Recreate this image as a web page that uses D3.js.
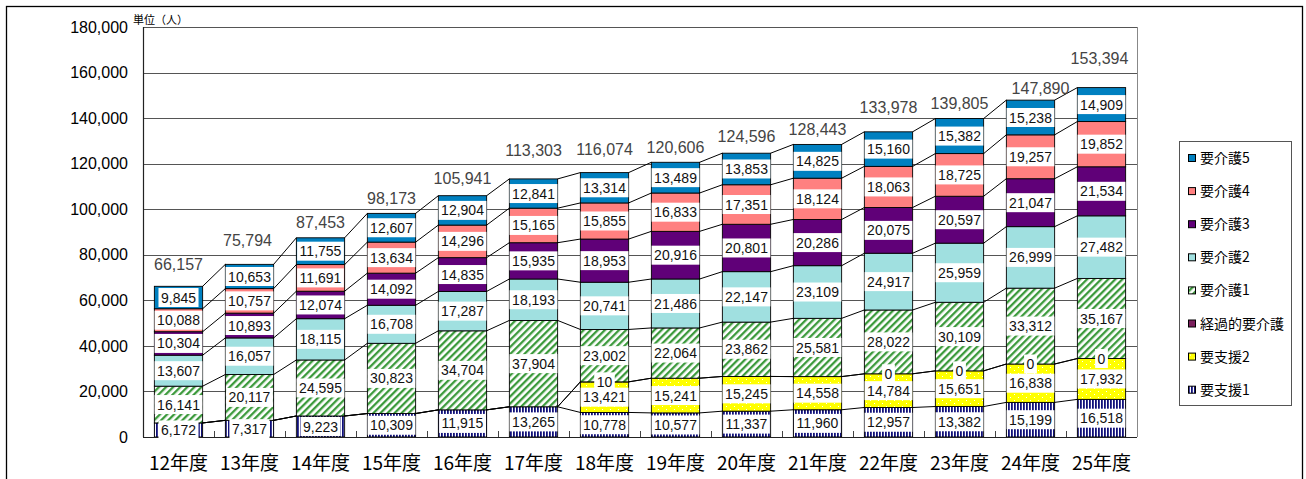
<!DOCTYPE html>
<html>
<head>
<meta charset="utf-8">
<script src="https://cdn.jsdelivr.net/npm/d3@7"></script>
<style>
  body { margin: 0; background: #fff; }
  svg text { font-family: "Liberation Sans", Arial, sans-serif; }
</style>
</head>
<body>
<div id="chart-holder"></div>
<script>
// categories (fiscal years)
var years = ["12年度", "13年度", "14年度", "15年度", "16年度", "17年度", "18年度",
             "19年度", "20年度", "21年度", "22年度", "23年度", "24年度", "25年度"];

// series, bottom of the stack first
var seriesNames = ["要支援1", "要支援2", "経過的要介護", "要介護1", "要介護2", "要介護3", "要介護4", "要介護5"];

var yoshien1 = [6172, 7317, 9223, 10309, 11915, 13265, 10778, 10577, 11337, 11960, 12957, 13382, 15199, 16518];
var yoshien2 = [null, null, null, null, null, null, 13421, 15241, 15245, 14558, 14784, 15651, 16838, 17932];
var keika    = [null, null, null, null, null, null, 10, null, null, null, 0, 0, 0, 0];
var kaigo1   = [16141, 20117, 24595, 30823, 34704, 37904, 23002, 22064, 23862, 25581, 28022, 30109, 33312, 35167];
var kaigo2   = [13607, 16057, 18115, 16708, 17287, 18193, 20741, 21486, 22147, 23109, 24917, 25959, 26999, 27482];
var kaigo3   = [10304, 10893, 12074, 14092, 14835, 15935, 18953, 20916, 20801, 20286, 20075, 20597, 21047, 21534];
var kaigo4   = [10088, 10757, 11691, 13634, 14296, 15165, 15855, 16833, 17351, 18124, 18063, 18725, 19257, 19852];
var kaigo5   = [9845, 10653, 11755, 12607, 12904, 12841, 13314, 13489, 13853, 14825, 15160, 15382, 15238, 14909];

var totals = [66157, 75794, 87453, 98173, 105941, 113303, 116074, 120606, 124596, 128443, 133978, 139805, 147890, 153394];

var yTicks = [0, 20000, 40000, 60000, 80000, 100000, 120000, 140000, 160000, 180000];

var seriesValues = [yoshien1, yoshien2, keika, kaigo1, kaigo2, kaigo3, kaigo4, kaigo5];

// how far each total label sits above its bar (hand placed in the original)
var totalLift = [22, 24, 16, 15, 17, 29, 23, 15, 17, 15, 25, 15, 12, 29];
var totalShift = [0, -2, 0, 0, 0, 0, 0, 0, 0, 0, 0, 0, 10, -2];

var width = 1306;
var height = 479;
var plot = { left: 143, right: 1137, top: 27, bottom: 437 };

var svg = d3.select("#chart-holder")
    .append("svg")
    .attr("width", width)
    .attr("height", height)
    .style("display", "block");

// fills: plain colours and the excel-like patterns
var defs = svg.append("defs");

var p1 = defs.append("pattern").attr("id", "pYoshien1")
    .attr("patternUnits", "userSpaceOnUse").attr("width", 3).attr("height", 3);
p1.append("rect").attr("width", 3).attr("height", 3).attr("fill", "#fff");
p1.append("rect").attr("width", 1.8).attr("height", 3).attr("fill", "#10107a");

var p2 = defs.append("pattern").attr("id", "pYoshien2")
    .attr("patternUnits", "userSpaceOnUse").attr("width", 8).attr("height", 6);
p2.append("rect").attr("width", 8).attr("height", 6).attr("fill", "#ffff00");
p2.append("rect").attr("x", 2).attr("y", 1).attr("width", 1).attr("height", 1).attr("fill", "#fff");
p2.append("rect").attr("x", 6).attr("y", 4).attr("width", 1).attr("height", 1).attr("fill", "#fff");

var pk = defs.append("pattern").attr("id", "pKaigo1")
    .attr("patternUnits", "userSpaceOnUse").attr("width", 5).attr("height", 5)
    .attr("patternTransform", "rotate(45)");
pk.append("rect").attr("width", 5).attr("height", 5).attr("fill", "#fff");
pk.append("rect").attr("width", 2.3).attr("height", 5).attr("fill", "#3c9a3c");

var fills = ["url(#pYoshien1)", "url(#pYoshien2)", "#7a1f5c", "url(#pKaigo1)",
             "#a0e0e0", "#600078", "#ff8080", "#0080c0"];

// scales
var x = d3.scaleBand()
    .domain(years)
    .range([plot.left, plot.right])
    .paddingInner(0.32)
    .paddingOuter(0.16);

var y = d3.scaleLinear()
    .domain([0, 180000])
    .range([plot.bottom, plot.top]);

var bw = x.bandwidth();

// outer frame
svg.append("rect")
    .attr("x", 6.5).attr("y", 6.5)
    .attr("width", 1296).attr("height", 490)
    .attr("fill", "none")
    .attr("stroke", "#000")
    .attr("stroke-width", 1.3);

// gridlines
svg.append("g")
    .selectAll("line")
    .data(yTicks.filter(function (d) { return d > 0; }))
    .enter()
    .append("line")
    .attr("x1", plot.left).attr("x2", plot.right)
    .attr("y1", function (d) { return Math.round(y(d)) + 0.5; })
    .attr("y2", function (d) { return Math.round(y(d)) + 0.5; })
    .attr("stroke", "#555")
    .attr("stroke-width", 1);

// plot area right border
svg.append("line")
    .attr("x1", plot.right + 0.5).attr("x2", plot.right + 0.5)
    .attr("y1", plot.top).attr("y2", plot.bottom)
    .attr("stroke", "#888");

// y axis labels
var yAxis = svg.append("g")
    .attr("transform", "translate(" + plot.left + ",0)")
    .call(d3.axisLeft(y).tickValues(yTicks).tickFormat(d3.format(",")).tickSize(0).tickPadding(15));
yAxis.select(".domain").remove();
yAxis.selectAll("text")
    .style("font-family", "'Liberation Sans', Arial, sans-serif")
    .style("font-size", "16px")
    .attr("fill", "#000");

svg.append("text")
    .attr("x", 133).attr("y", 20)
    .attr("dy", "0.35em")
    .style("font-family", "'Noto Sans CJK JP', sans-serif")
    .style("font-size", "11px")
    .text("単位（人）");

// stack the table
var table = years.map(function (yr, i) {
    var row = { year: yr };
    seriesNames.forEach(function (s, k) { row[s] = seriesValues[k][i]; });
    return row;
});

var layers = d3.stack()
    .keys(seriesNames)
    .value(function (d, key) { return d[key] || 0; })(table);

// bar segments
layers.forEach(function (layer, k) {
    svg.append("g")
        .selectAll("rect")
        .data(layer.filter(function (d) { return d.data[seriesNames[k]] !== null; }))
        .enter()
        .append("rect")
        .attr("x", function (d) { return x(d.data.year); })
        .attr("y", function (d) { return y(d[1]); })
        .attr("width", bw)
        .attr("height", function (d) { return y(d[0]) - y(d[1]); })
        .attr("fill", fills[k])
        .attr("stroke", "#000")
        .attr("stroke-width", 0.9);
});

// axis lines
svg.append("line")
    .attr("x1", plot.left + 0.5).attr("x2", plot.left + 0.5)
    .attr("y1", plot.top).attr("y2", plot.bottom)
    .attr("stroke", "#222").attr("stroke-width", 1.2);
svg.append("line")
    .attr("x1", plot.left).attr("x2", plot.right)
    .attr("y1", plot.bottom + 0.5).attr("y2", plot.bottom + 0.5)
    .attr("stroke", "#222").attr("stroke-width", 1.2);

// small inside ticks between categories
svg.append("g")
    .selectAll("line")
    .data(years.slice(1))
    .enter()
    .append("line")
    .attr("x1", function (d) { return Math.round(x(d) - x.step() * x.paddingInner() / 2) + 0.5; })
    .attr("x2", function (d) { return Math.round(x(d) - x.step() * x.paddingInner() / 2) + 0.5; })
    .attr("y1", plot.bottom - 6).attr("y2", plot.bottom)
    .attr("stroke", "#444");

// series lines joining the segment tops
layers.forEach(function (layer) {
    svg.append("g")
        .selectAll("line")
        .data(layer.slice(0, -1))
        .enter()
        .append("line")
        .attr("x1", function (d) { return x(d.data.year) + bw; })
        .attr("y1", function (d) { return y(d[1]); })
        .attr("x2", function (d, i) { return x(layer[i + 1].data.year); })
        .attr("y2", function (d, i) { return y(layer[i + 1][1]); })
        .attr("stroke", "#000")
        .attr("stroke-width", 1);
});

// value labels in white boxes
var fmt = d3.format(",");
layers.forEach(function (layer, k) {
    layer.forEach(function (d) {
        var v = d.data[seriesNames[k]];
        if (v === null) return;
        var g = svg.append("g")
            .attr("transform", "translate(" + (x(d.data.year) + bw / 2) + "," + y((d[0] + d[1]) / 2) + ")");
        var box = g.append("rect").attr("fill", "#fff");
        var t = g.append("text")
            .attr("text-anchor", "middle")
            .attr("dy", "0.36em")
            .style("font-size", "14px")
            .attr("fill", "#111")
            .text(fmt(v));
        var w = Math.min(t.node().getComputedTextLength() + 5, bw);
        box.attr("x", -w / 2).attr("y", -9.5).attr("width", w).attr("height", 19);
    });
});

// totals above the bars
svg.append("g")
    .selectAll("text")
    .data(totals)
    .enter()
    .append("text")
    .attr("x", function (d, i) { return x(years[i]) + bw / 2 + totalShift[i]; })
    .attr("y", function (d, i) { return y(d) - totalLift[i]; })
    .attr("dy", "0.36em")
    .attr("text-anchor", "middle")
    .style("font-size", "16px")
    .attr("fill", "#444")
    .text(function (d) { return fmt(d); });

// category labels
svg.append("g")
    .selectAll("text")
    .data(years)
    .enter()
    .append("text")
    .attr("x", function (d) { return x(d) + bw / 2; })
    .attr("y", 463)
    .attr("dy", "0.36em")
    .attr("text-anchor", "middle")
    .style("font-family", "'Noto Sans CJK JP', sans-serif")
    .style("font-size", "19px")
    .text(function (d) { return d; });

// legend, top series first
var legend = svg.append("g");
legend.append("rect")
    .attr("x", 1179.5).attr("y", 141.5)
    .attr("width", 112).attr("height", 264)
    .attr("fill", "#fff")
    .attr("stroke", "#555");

var items = legend.selectAll("g.item")
    .data(d3.range(seriesNames.length).reverse())
    .enter()
    .append("g")
    .attr("class", "item")
    .attr("transform", function (k, j) { return "translate(0," + (158 + j * 33.1) + ")"; });

items.append("rect")
    .attr("x", 1188.5).attr("y", -3.5)
    .attr("width", 7).attr("height", 7)
    .attr("fill", function (k) { return fills[k]; })
    .attr("stroke", "#000");

items.append("text")
    .attr("x", 1200)
    .attr("dy", "0.36em")
    .style("font-family", "'Noto Sans CJK JP', sans-serif")
    .style("font-size", "14px")
    .text(function (k) { return seriesNames[k]; });
</script>
</body>
</html>
